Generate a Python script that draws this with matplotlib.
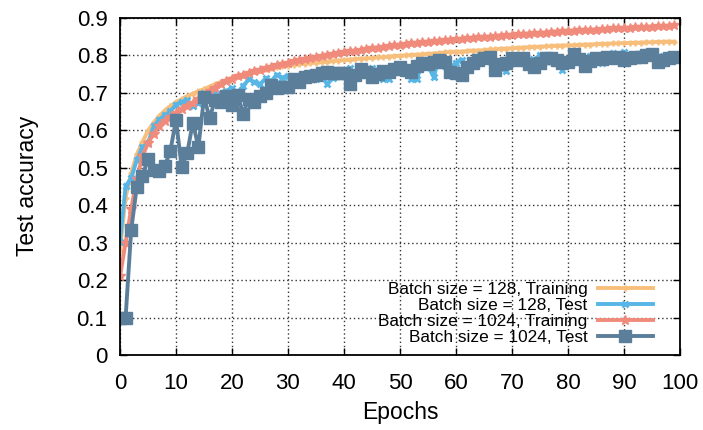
'''Accuracy curves for two batch sizes.'''

import numpy as np
import matplotlib
matplotlib.use("Agg")
import matplotlib.pyplot as plt

plt.rcParams['font.family'] = ['Liberation Sans', 'DejaVu Sans']

epochs = np.arange(100)

train_128 = [
    .280, .420, .485, .535, .568, .598, .620, .637, .652, .664,
    .674, .682, .690, .697, .703, .709, .716, .722, .728, .733,
    .739, .744, .748, .752, .757, .761, .763, .766, .768, .771,
    .772, .774, .776, .777, .779, .780, .781, .782, .784, .785,
    .787, .788, .789, .790, .791, .792, .794, .794, .796, .797,
    .798, .799, .800, .801, .802, .803, .804, .805, .807, .808,
    .809, .809, .811, .812, .812, .813, .815, .815, .817, .817,
    .818, .819, .820, .821, .822, .822, .823, .824, .825, .825,
    .826, .826, .827, .828, .828, .829, .830, .830, .831, .831,
    .832, .832, .833, .833, .834, .834, .835, .835, .836, .835,
]

test_128 = [
    .302, .450, .472, .520, .555, .565, .610, .628, .640, .650,
    .668, .675, .680, .665, .672, .698, .685, .700, .695, .705,
    .712, .700, .718, .735, .728, .722, .738, .730, .748, .740,
    .745, .738, .728, .745, .750, .735, .742, .722, .740, .752,
    .748, .765, .752, .760, .748, .765, .758, .735, .736, .768,
    .772, .755, .735, .736, .778, .770, .742, .790, .772, .765,
    .780, .788, .770, .775, .795, .798, .785, .780, .765, .758,
    .785, .795, .778, .790, .788, .800, .795, .785, .790, .760,
    .790, .802, .795, .785, .798, .790, .780, .800, .806, .795,
    .808, .800, .795, .790, .802, .798, .790, .797, .800, .795,
]

train_1024 = [
    .210, .300, .390, .470, .530, .565, .590, .610, .625, .636,
    .646, .655, .664, .672, .683, .692, .703, .713, .722, .730,
    .737, .743, .748, .752, .757, .761, .765, .769, .773, .776,
    .779, .783, .786, .789, .792, .795, .798, .801, .803, .806,
    .808, .810, .812, .814, .816, .818, .820, .822, .824, .826,
    .827, .829, .831, .832, .834, .835, .837, .838, .840, .841,
    .842, .843, .845, .846, .847, .848, .849, .851, .852, .853,
    .854, .855, .856, .857, .858, .859, .860, .862, .862, .863,
    .864, .865, .866, .867, .867, .868, .869, .870, .871, .871,
    .872, .873, .874, .874, .875, .876, .877, .877, .878, .880,
]

test_1024 = [
    .100, .100, .333, .449, .477, .523, .493, .490, .504, .545,
    .627, .502, .538, .620, .554, .687, .633, .680, .675, .690,
    .667, .693, .644, .684, .675, .690, .698, .720, .711, .716,
    .716, .735, .729, .742, .745, .747, .751, .755, .751, .751,
    .752, .724, .748, .764, .755, .742, .750, .758, .756, .762,
    .769, .760, .756, .770, .778, .775, .782, .787, .782, .756,
    .752, .747, .768, .778, .787, .791, .796, .760, .775, .780,
    .791, .786, .791, .775, .769, .780, .791, .792, .787, .778,
    .782, .803, .790, .770, .785, .791, .790, .796, .791, .796,
    .787, .791, .795, .796, .800, .804, .782, .787, .791, .796,
]

labels = [
    "Batch size = 128, Training",
    "Batch size = 128, Test",
    "Batch size = 1024, Training",
    "Batch size = 1024, Test",
]

fig = plt.figure(figsize=(7.03, 4.30), dpi=100)
ax = fig.add_axes([0.1707, 0.1744, 0.7965, 0.7849])

ax.plot(epochs, train_128, color="#f8bf7c", lw=2.8, marker="+",
        ms=5, mew=1.8, label=labels[0])
ax.plot(epochs, test_128, color="#58b6e6", lw=2.8, marker="x",
        ms=5, mew=2.0, label=labels[1])
ax.plot(epochs, train_1024, color="#f08b7c", lw=2.8, marker="*",
        ms=7, mew=1.0, label=labels[2])
ax.plot(epochs, test_1024, color="#5b7f9b", lw=2.8, marker="s",
        ms=8, label=labels[3])

ax.set_xlim(0, 100)
ax.set_ylim(0, 0.9)
ax.set_xticks(np.arange(0, 101, 10))
ax.set_yticks(np.arange(0, 0.91, 0.1))
ax.set_yticklabels(["0"] + ["%.1f" % v for v in np.arange(0.1, 0.91, 0.1)])
ax.tick_params(direction="in", top=True, right=True, labelsize=16,
               length=5, width=1)
ax.tick_params(axis="x", pad=13)
ax.tick_params(axis="y", pad=9)
ax.grid(True, color="#333333", linestyle=(0, (1, 2)), lw=1)
for sp in ax.spines.values():
    sp.set_linewidth(1.3)

ax.set_xlabel("Epochs", fontsize=16.5, labelpad=5)
ax.set_ylabel("Test accuracy", fontsize=16.5, labelpad=27)

ax.legend(loc="lower right", bbox_to_anchor=(0.967, 0.005), frameon=False,
          markerfirst=False, numpoints=1, fontsize=12.4, handlelength=3.2,
          labelspacing=0.05, borderpad=0, handletextpad=0.6)

fig.savefig("out.png", dpi=100)
